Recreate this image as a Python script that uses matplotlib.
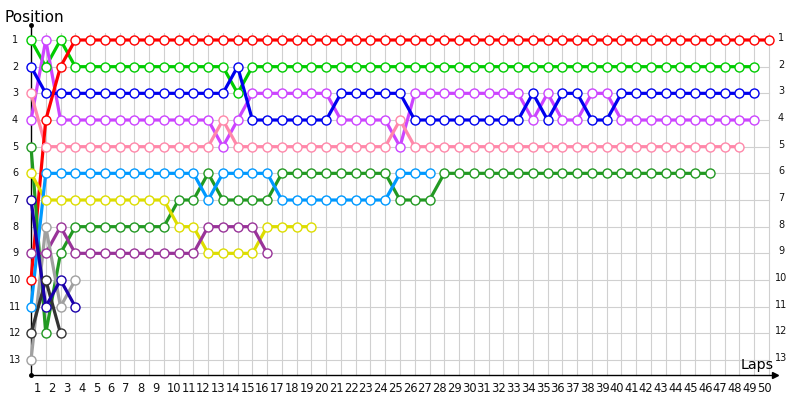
import matplotlib
matplotlib.use("Agg")
import matplotlib.pyplot as plt

# position of each driver, index 0 = starting grid, then lap 1, 2, ...
red = [10, 4, 2, 1, 1, 1, 1, 1, 1, 1,
       1, 1, 1, 1, 1, 1, 1, 1, 1, 1,
       1, 1, 1, 1, 1, 1, 1, 1, 1, 1,
       1, 1, 1, 1, 1, 1, 1, 1, 1, 1,
       1, 1, 1, 1, 1, 1, 1, 1, 1, 1,
       1]
green = [1, 2, 1, 2, 2, 2, 2, 2, 2, 2,
         2, 2, 2, 2, 3, 2, 2, 2, 2, 2,
         2, 2, 2, 2, 2, 2, 2, 2, 2, 2,
         2, 2, 2, 2, 2, 2, 2, 2, 2, 2,
         2, 2, 2, 2, 2, 2, 2, 2, 2, 2]
blue = [2, 3, 3, 3, 3, 3, 3, 3, 3, 3,
        3, 3, 3, 3, 2, 4, 4, 4, 4, 4,
        4, 3, 3, 3, 3, 3, 4, 4, 4, 4,
        4, 4, 4, 4, 3, 4, 3, 3, 4, 4,
        3, 3, 3, 3, 3, 3, 3, 3, 3, 3]
violet = [4, 1, 4, 4, 4, 4, 4, 4, 4, 4,
          4, 4, 4, 5, 4, 3, 3, 3, 3, 3,
          3, 4, 4, 4, 4, 5, 3, 3, 3, 3,
          3, 3, 3, 3, 4, 3, 4, 4, 3, 3,
          4, 4, 4, 4, 4, 4, 4, 4, 4, 4]
pink = [3, 5, 5, 5, 5, 5, 5, 5, 5, 5,
        5, 5, 5, 4, 5, 5, 5, 5, 5, 5,
        5, 5, 5, 5, 5, 4, 5, 5, 5, 5,
        5, 5, 5, 5, 5, 5, 5, 5, 5, 5,
        5, 5, 5, 5, 5, 5, 5, 5, 5]
lightblue = [11, 6, 6, 6, 6, 6, 6, 6, 6, 6,
             6, 6, 7, 6, 6, 6, 6, 7, 7, 7,
             7, 7, 7, 7, 7, 6, 6, 6]
darkgreen = [5, 12, 9, 8, 8, 8, 8, 8, 8, 8,
             7, 7, 6, 7, 7, 7, 7, 6, 6, 6,
             6, 6, 6, 6, 6, 7, 7, 7, 6, 6,
             6, 6, 6, 6, 6, 6, 6, 6, 6, 6,
             6, 6, 6, 6, 6, 6, 6]
yellow = [6, 7, 7, 7, 7, 7, 7, 7, 7, 7,
          8, 8, 9, 9, 9, 9, 8, 8, 8, 8]
purple = [9, 9, 8, 9, 9, 9, 9, 9, 9, 9,
          9, 9, 8, 8, 8, 8, 9]
gray = [13, 8, 11, 10]
black = [12, 10, 12]
navy = [7, 11, 10, 11]

n_laps = 50
n_pos = 13

# drawing order (bottom to top) and colours
drivers = [
    (green, "#00cc00"),
    (violet, "#cc44ff"),
    (pink, "#ff88aa"),
    (blue, "#0000ee"),
    (red, "#ff0000"),
    (darkgreen, "#229922"),
    (yellow, "#dddd00"),
    (purple, "#993399"),
    (lightblue, "#0099ff"),
    (gray, "#a0a0a0"),
    (black, "#333333"),
    (navy, "#1a00aa"),
]

# pixel helpers: lap 0 at x=31px, lap step 14.76px; pos 1 at y=40px, step 26.67px
DX = 14.76
DY = 26.667


def px(x):
    return (x - 31) / DX


def py(y):
    return 1 + (y - 40) / DY


fig = plt.figure(figsize=(8, 4), dpi=100)
ax = fig.add_axes([0, 0, 1, 1])
ax.set_xlim(px(0), px(800))
ax.set_ylim(py(400), py(0))
ax.axis("off")

grid_c = "#d0d0d0"
axis_y = py(375)
# grid
for lap in range(1, n_laps + 1):
    ax.plot([lap, lap], [axis_y, py(33)], color=grid_c, lw=0.8, zorder=1)
for p in range(1, n_pos + 1):
    ax.plot([0, n_laps], [p, p], color=grid_c, lw=0.8, zorder=1)

# axes
ax.plot([0, 0], [axis_y, py(25)], color="black", lw=1, zorder=2)
ax.plot([0], [py(25)], marker="o", color="black", ms=2.5, zorder=2)
ax.plot([0], [axis_y], marker="o", color="black", ms=2.5, zorder=2)
ax.plot([0, px(776)], [axis_y, axis_y], color="black", lw=1, zorder=2)
ax.plot([px(775)], [axis_y], marker=">", color="black", ms=4.5, zorder=2)

# tick labels
for lap in range(1, n_laps + 1):
    ax.text(lap + px(19), py(389), str(lap), fontsize=8.3, ha="left",
            va="center", color="#111111")
for p in range(1, n_pos + 1):
    ax.text(px(15), p, str(p), fontsize=7, ha="center", va="center",
            color="#111111")
    ax.text(px(781), p - 0.08, str(p), fontsize=7, ha="center", va="center",
            color="#111111")

ax.text(px(5), py(22), "Position", fontsize=11, ha="left", va="baseline")
ax.text(px(741), py(369), "Laps", fontsize=10.3, ha="left", va="baseline")

# driver lines
for pos, col in drivers:
    ax.plot(range(len(pos)), pos, color=col, lw=2.3, solid_capstyle="round",
            zorder=3)
for pos, col in drivers:
    ax.plot(range(len(pos)), pos, ls="none", marker="o", ms=6.5, mfc="white",
            mec=col, mew=1, zorder=4)

fig.savefig("out.png", dpi=100)
